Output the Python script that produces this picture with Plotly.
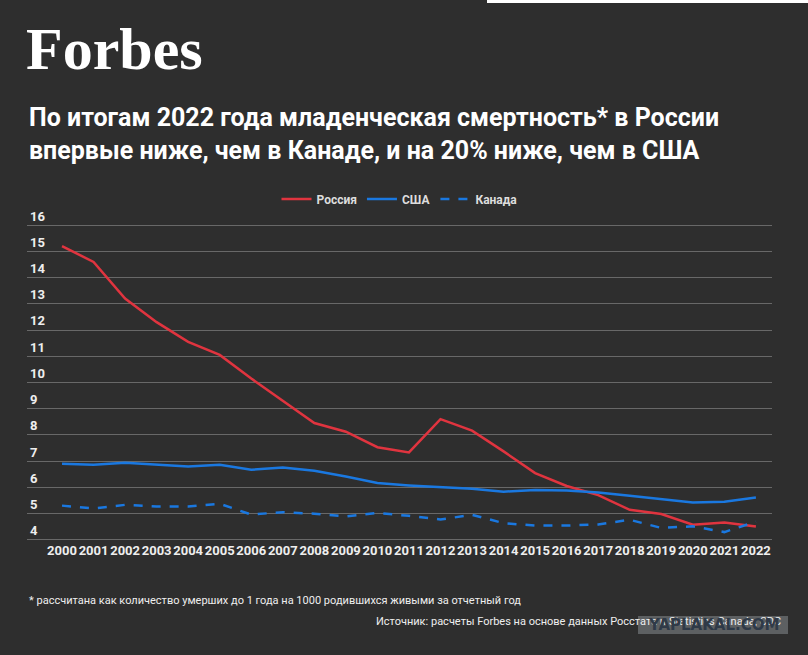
import plotly.graph_objects as go

years = [str(y) for y in range(2000, 2023)]
russia = [15.2, 14.6, 13.2, 12.3, 11.55, 11.05, 10.15, 9.3, 8.45, 8.12, 7.53, 7.33,
          8.6, 8.16, 7.37, 6.54, 6.05, 5.7, 5.14, 4.98, 4.57, 4.66, 4.5]
usa = [6.9, 6.86, 6.94, 6.87, 6.79, 6.86, 6.67, 6.75, 6.63, 6.41, 6.16, 6.07,
       6.0, 5.94, 5.83, 5.9, 5.88, 5.8, 5.68, 5.56, 5.42, 5.45, 5.61]
canada = [5.3, 5.19, 5.33, 5.27, 5.27, 5.37, 4.96, 5.05, 4.99, 4.89, 5.02, 4.91,
          4.77, 4.95, 4.63, 4.54, 4.54, 4.58, 4.76, 4.45, 4.51, 4.29, 4.69]
y_ticks = list(range(4, 17))

BG = '#2e2e2e'
RED = '#e0343f'
BLUE = '#1a78e0'

# plot area in pixels
PL, PR, PT, PB = 27, 772, 199, 541


def py(p):
    # pixel row -> paper y
    return (PB - p) / (PB - PT)


def px(p):
    # pixel column -> paper x
    return (p - PL) / (PR - PL)


fig = go.Figure()
fig.add_trace(go.Scatter(x=years, y=russia, mode='lines', name='Россия',
                         line=dict(color=RED, width=2.5)))
fig.add_trace(go.Scatter(x=years, y=usa, mode='lines', name='США',
                         line=dict(color=BLUE, width=2.5)))
fig.add_trace(go.Scatter(x=years, y=canada, mode='lines', name='Канада',
                         line=dict(color=BLUE, width=2.5, dash='dash')))

fig.update_layout(
    width=808, height=655,
    paper_bgcolor=BG, plot_bgcolor=BG,
    margin=dict(l=PL, r=808 - PR, t=PT, b=655 - PB, autoexpand=False),
    font=dict(family='Roboto', color='#eeeeee'),
    showlegend=True,
    legend=dict(orientation='h', x=0.5, xanchor='center', yref='container',
                y=1 - 199 / 655, yanchor='middle',
                font=dict(size=12, color='#dddddd', weight='bold'),
                bgcolor='rgba(0,0,0,0)'),
)

fig.update_xaxes(type='category', range=[-1.11, 22.51], showgrid=False, zeroline=False,
                 showline=False, ticks='', tickangle=0,
                 tickfont=dict(size=13, color='#eeeeee', weight='bold'))
fig.update_yaxes(range=[3.95, 17.0], tickvals=y_ticks, showgrid=True, gridcolor='#686868',
                 gridwidth=1, zeroline=False, showline=False, ticks='',
                 ticklabelposition='inside top',
                 tickfont=dict(size=13, color='#eeeeee', weight='bold'))

# Forbes logo and headline
fig.add_annotation(text='Forbes', xref='paper', yref='paper', x=px(24), y=py(49),
                   xanchor='left', yanchor='middle', showarrow=False,
                   font=dict(family='Liberation Serif', size=60, color='white', weight='bold'))
fig.add_annotation(text='По итогам 2022 года младенческая смертность* в России<br>'
                        'впервые ниже, чем в Канаде, и на 20% ниже, чем в США',
                   xref='paper', yref='paper', x=0, y=py(134),
                   xanchor='left', yanchor='middle', align='left', showarrow=False,
                   font=dict(family='Roboto', size=25, color='white', weight='bold'))

# footnotes
fig.add_annotation(text='* рассчитана как количество умерших до 1 года на 1000 родившихся живыми за отчетный год',
                   xref='paper', yref='paper', x=0, y=py(600),
                   xanchor='left', yanchor='middle', showarrow=False,
                   font=dict(family='Roboto', size=11, color='#eeeeee'))
fig.add_annotation(text='Источник: расчеты Forbes на основе данных Росстата и Statistics Canada, CDC',
                   xref='paper', yref='paper', x=px(783), y=py(621),
                   xanchor='right', yanchor='middle', showarrow=False,
                   font=dict(family='Roboto', size=11, color='#eeeeee'))

# watermark box and top-right white tab
fig.add_shape(type='rect', xref='paper', yref='paper',
              x0=px(638), x1=px(788), y0=py(634), y1=py(616),
              fillcolor='rgba(110,113,116,0.75)', line=dict(width=0), layer='above')
fig.add_annotation(text='YAPLAKAL.COM', xref='paper', yref='paper',
                   x=px(713), y=py(625), xanchor='center', yanchor='middle',
                   showarrow=False, font=dict(family='DejaVu Sans', size=15, color='#2f3a48', weight='bold'))
fig.add_shape(type='rect', xref='paper', yref='paper',
              x0=px(487), x1=px(812), y0=py(3), y1=py(-4),
              fillcolor='white', line=dict(width=0))

fig.write_html('out.html', config={'displayModeBar': False},
               post_script="document.body.style.margin='0';")
